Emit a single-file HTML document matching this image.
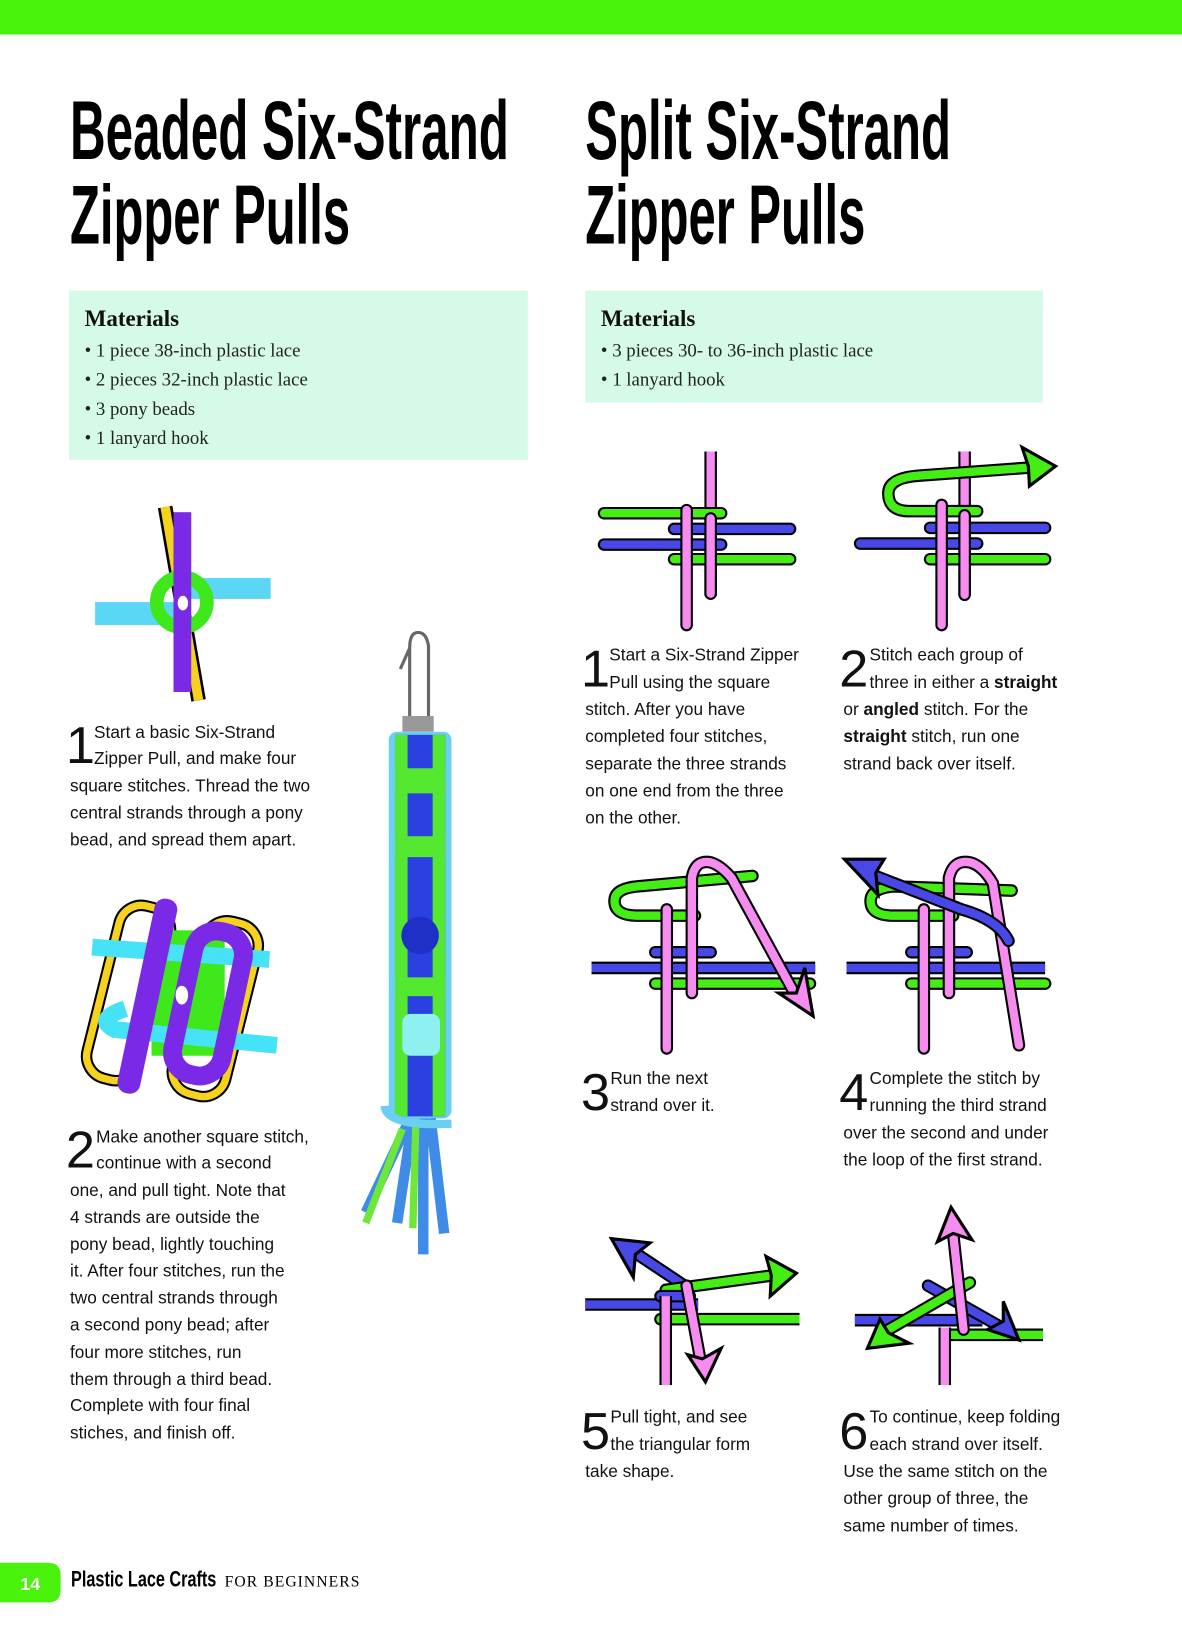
<!DOCTYPE html>
<html><head><meta charset="utf-8"><style>
html,body{margin:0;padding:0;background:#fff}
svg{display:block}
.o{stroke:#000;fill:none;stroke-width:12}
.or{stroke:#000;fill:none;stroke-width:12;stroke-linecap:round}
.g{stroke:#44ee14;fill:none;stroke-width:8}
.b{stroke:#4848e6;fill:none;stroke-width:8}
.p{stroke:#f68cef;fill:none;stroke-width:8}
.gr{stroke:#44ee14;fill:none;stroke-width:8;stroke-linecap:round}
.br{stroke:#4848e6;fill:none;stroke-width:8;stroke-linecap:round}
.pr{stroke:#f68cef;fill:none;stroke-width:8;stroke-linecap:round}
.t{font-family:"Liberation Sans",sans-serif;font-size:16.5px;fill:#111}
.n{font-family:"Liberation Sans Narrow","Liberation Sans",sans-serif;font-size:50px;fill:#111}
.h{font-family:"Liberation Sans Narrow","Liberation Sans",sans-serif;font-weight:bold;font-size:80px;fill:#000}
.m{font-family:"Liberation Serif",serif;font-size:18px;fill:#222}
.mh{font-family:"Liberation Serif",serif;font-size:22px;font-weight:bold;fill:#111}
</style></head><body>
<svg width="1182" height="1639" viewBox="0 0 1131 1568" preserveAspectRatio="none" xmlns="http://www.w3.org/2000/svg">
<rect x="0" y="0" width="1131" height="33" fill="#48f20a"/>
<text class="h" x="67" y="152" textLength="420" lengthAdjust="spacingAndGlyphs">Beaded Six-Strand</text>
<text class="h" x="67" y="233" textLength="268" lengthAdjust="spacingAndGlyphs">Zipper Pulls</text>
<text class="h" x="560" y="152" textLength="350" lengthAdjust="spacingAndGlyphs">Split Six-Strand</text>
<text class="h" x="560" y="233" textLength="268" lengthAdjust="spacingAndGlyphs">Zipper Pulls</text>

<rect x="66" y="278" width="439" height="162" fill="#d5fae8"/>
<rect x="560" y="278" width="438" height="107" fill="#d5fae8"/>
<text class="mh" x="81" y="312">Materials</text>
<text class="m" x="81" y="341">• 1 piece 38-inch plastic lace</text>
<text class="m" x="81" y="369">• 2 pieces 32-inch plastic lace</text>
<text class="m" x="81" y="397">• 3 pony beads</text>
<text class="m" x="81" y="425">• 1 lanyard hook</text>
<text class="mh" x="575" y="312">Materials</text>
<text class="m" x="575" y="341">• 3 pieces 30- to 36-inch plastic lace</text>
<text class="m" x="575" y="369">• 1 lanyard hook</text>

<!-- left fig 1 -->
<g>
<line x1="158" y1="485" x2="190" y2="670" stroke="#000" stroke-width="14"/>
<line x1="158" y1="485" x2="190" y2="670" stroke="#f7d21c" stroke-width="9"/>
<rect x="91" y="576" width="80" height="22" fill="#5bd6f5"/>
<rect x="178" y="553" width="81" height="20" fill="#5bd6f5"/>
<circle cx="174" cy="576" r="24" fill="none" stroke="#3ee81a" stroke-width="13"/>
<rect x="166" y="490" width="17" height="172" fill="#7a2ae6"/>
<ellipse cx="175" cy="577" rx="5" ry="7" fill="#fff"/>
</g>
<!-- left fig 2 -->
<g>
<rect x="98" y="865" width="50" height="170" rx="22" transform="rotate(14 123 950)" fill="none" stroke="#000" stroke-width="11"/>
<rect x="98" y="865" width="50" height="170" rx="22" transform="rotate(14 123 950)" fill="none" stroke="#f7d21c" stroke-width="7"/>
<rect x="180" y="880" width="52" height="170" rx="22" transform="rotate(14 206 965)" fill="none" stroke="#000" stroke-width="11"/>
<rect x="180" y="880" width="52" height="170" rx="22" transform="rotate(14 206 965)" fill="none" stroke="#f7d21c" stroke-width="7"/>
<rect x="145" y="890" width="70" height="120" fill="#3ee81a"/>
<rect x="88" y="904" width="170" height="16" fill="#45e2f8" transform="rotate(4 173 912)"/>
<path d="M120 965 Q90 975 110 985 L265 1000" stroke="#45e2f8" stroke-width="16" fill="none"/>
<rect x="130" y="858" width="22" height="190" rx="10" fill="#7a2ae6" transform="rotate(12 141 953)"/>
<rect x="175" y="890" width="48" height="140" rx="22" fill="none" stroke="#7a2ae6" stroke-width="18" transform="rotate(12 199 960)"/>
<ellipse cx="174" cy="952" rx="6" ry="9" fill="#fff"/>
</g>
<!-- keychain -->
<g>
<path d="M392 690 L392 620 Q392 605 400 605 Q408 605 410 618 L410 690" stroke="#666" stroke-width="3" fill="none"/>
<path d="M383 640 L392 620" stroke="#666" stroke-width="3"/>
<rect x="385" y="685" width="30" height="15" fill="#999"/>
<rect x="372" y="700" width="60" height="370" rx="8" fill="#6ccef2"/>
<rect x="378" y="703" width="48" height="365" fill="#2a40e0"/>
<g fill="#55e830">
<rect x="378" y="703" width="12" height="365"/>
<rect x="414" y="703" width="12" height="365"/>
<rect x="378" y="735" width="48" height="24"/>
<rect x="378" y="800" width="48" height="20"/>
<rect x="378" y="935" width="48" height="18"/>
</g>
<circle cx="402" cy="895" r="18" fill="#1f30c8"/>
<rect x="385" y="970" width="36" height="40" rx="8" fill="#8ff0f0"/>
<path d="M395 1070 L380 1170 M405 1070 L405 1200 M412 1070 L425 1180 M390 1075 L350 1160" stroke="#3e8ce8" stroke-width="10"/>
<path d="M398 1070 L395 1175 M385 1080 L350 1170" stroke="#6de83a" stroke-width="7"/>
<path d="M368 1058 Q370 1078 432 1075" stroke="#6ccef2" stroke-width="8" fill="none"/>
</g>

<!-- Right D1 -->
<g>
<path class="o" d="M680 432 V570"/><path class="p" d="M680 432 V570"/>
<path class="or" d="M578 491 H690"/><path class="gr" d="M578 491 H690"/>
<path class="or" d="M645 506 H756"/><path class="br" d="M645 506 H756"/>
<path class="or" d="M578 521 H690"/><path class="br" d="M578 521 H690"/>
<path class="or" d="M645 535 H756"/><path class="gr" d="M645 535 H756"/>
<path class="or" d="M657 488 V598"/><path class="pr" d="M657 488 V598"/>
<path class="or" d="M680 496 V568"/><path class="pr" d="M680 496 V568"/>
</g>
<!-- Right D2 -->
<g>
<path class="o" d="M923 432 V570"/><path class="p" d="M923 432 V570"/>
<path class="or" d="M935 489 H870 Q850 489 850 472 Q850 457 880 455 L990 447"/>
<path class="gr" d="M935 489 H870 Q850 489 850 472 Q850 457 880 455 L990 447"/>
<polygon points="1010,446 978,428 984,446 985,465" fill="#44ee14" stroke="#000" stroke-width="3"/>
<path class="or" d="M890 505 H1000"/><path class="br" d="M890 505 H1000"/>
<path class="or" d="M823 520 H935"/><path class="br" d="M823 520 H935"/>
<path class="or" d="M890 535 H1000"/><path class="gr" d="M890 535 H1000"/>
<path class="or" d="M901 483 V598"/><path class="pr" d="M901 483 V598"/>
<path class="or" d="M923 493 V569"/><path class="pr" d="M923 493 V569"/>
</g>
<!-- Right D3 -->
<g>
<path class="or" d="M665 876 H610 Q588 876 588 862 Q588 850 610 848 L720 838"/>
<path class="gr" d="M665 876 H610 Q588 876 588 862 Q588 850 610 848 L720 838"/>
<path class="o" d="M566 926 H780"/><path class="b" d="M566 926 H780"/>
<path class="or" d="M627 911 H680"/><path class="br" d="M627 911 H680"/>
<path class="or" d="M627 941 H775"/><path class="gr" d="M627 941 H775"/>
<path class="or" d="M638 870 V1003"/><path class="pr" d="M638 870 V1003"/>
<path class="or" d="M662 950 V840 Q665 822 680 825 Q690 828 700 840 L760 950"/>
<path class="pr" d="M662 950 V840 Q665 822 680 825 Q690 828 700 840 L760 950"/>
<polygon points="778,972 745,950 762,950 770,926" fill="#f68cef" stroke="#000" stroke-width="3"/>
</g>
<!-- Right D4 -->
<g>
<path class="or" d="M912 876 H855 Q833 876 833 862 Q833 850 855 848 L968 852"/>
<path class="gr" d="M912 876 H855 Q833 876 833 862 Q833 850 855 848 L968 852"/>
<path class="o" d="M810 926 H1000"/><path class="b" d="M810 926 H1000"/>
<path class="or" d="M872 911 H925"/><path class="br" d="M872 911 H925"/>
<path class="or" d="M872 941 H1000"/><path class="gr" d="M872 941 H1000"/>
<path class="or" d="M884 870 V1003"/><path class="pr" d="M884 870 V1003"/>
<path class="or" d="M908 950 V840 Q912 822 928 825 Q940 828 950 845 L975 1000"/>
<path class="pr" d="M908 950 V840 Q912 822 928 825 Q940 828 950 845 L975 1000"/>
<path class="or" d="M965 900 Q955 880 920 870 L830 835"/><path class="br" d="M965 900 Q955 880 920 870 L830 835"/>
<polygon points="808,822 846,822 838,835 840,856" fill="#4848e6" stroke="#000" stroke-width="3"/>
</g>
<!-- Right D5 -->
<g>
<path class="o" d="M560 1248 H668"/><path class="b" d="M560 1248 H668"/>
<path class="o" d="M640 1262 H765"/><path class="g" d="M640 1262 H765"/>
<path class="or" d="M655 1230 L610 1200"/><path class="br" d="M655 1230 L610 1200"/>
<polygon points="585,1185 622,1189 608,1200 606,1222" fill="#4848e6" stroke="#000" stroke-width="3"/>
<path class="or" d="M637 1234 L740 1220"/><path class="gr" d="M637 1234 L740 1220"/>
<polygon points="762,1218 733,1202 738,1220 737,1240" fill="#44ee14" stroke="#000" stroke-width="3"/>
<path class="or" d="M632 1240 H660"/><path class="br" d="M632 1240 H660"/>
<path class="or" d="M632 1262 H660"/><path class="gr" d="M632 1262 H660"/>
<path class="o" d="M637 1240 V1325"/><path class="p" d="M637 1240 V1325"/>
<path class="or" d="M657 1230 L670 1300"/><path class="pr" d="M657 1230 L670 1300"/>
<polygon points="675,1322 658,1296 672,1300 690,1290" fill="#f68cef" stroke="#000" stroke-width="3"/>
</g>
<!-- Right D6 -->
<g>
<path class="o" d="M818 1263 H940"/><path class="b" d="M818 1263 H940"/>
<path class="o" d="M900 1277 H998"/><path class="g" d="M900 1277 H998"/>
<path class="o" d="M904 1270 V1325"/><path class="p" d="M904 1270 V1325"/>
<path class="or" d="M888 1230 L955 1268"/><path class="br" d="M888 1230 L955 1268"/>
<polygon points="975,1282 945,1272 960,1264 960,1245" fill="#4848e6" stroke="#000" stroke-width="3"/>
<path class="or" d="M928 1227 L845 1275"/><path class="gr" d="M928 1227 L845 1275"/>
<polygon points="830,1290 842,1262 850,1275 870,1285" fill="#44ee14" stroke="#000" stroke-width="3"/>
<path class="or" d="M922 1272 L912 1180"/><path class="pr" d="M922 1272 L912 1180"/>
<polygon points="910,1155 897,1188 912,1180 930,1186" fill="#f68cef" stroke="#000" stroke-width="3"/>
</g>

<!-- Left texts -->
<text class="n" x="63" y="730">1</text>
<text class="t" x="90" y="706">Start a basic Six-Strand</text>
<text class="t" x="90" y="731">Zipper Pull, and make four</text>
<text class="t" x="67" y="757">square stitches. Thread the two</text>
<text class="t" x="67" y="783">central strands through a pony</text>
<text class="t" x="67" y="809">bead, and spread them apart.</text>

<text class="n" x="63" y="1117">2</text>
<text class="t" x="92" y="1093">Make another square stitch,</text>
<text class="t" x="92" y="1118">continue with a second</text>
<text class="t" x="67" y="1144">one, and pull tight. Note that</text>
<text class="t" x="67" y="1170">4 strands are outside the</text>
<text class="t" x="67" y="1196">pony bead, lightly touching</text>
<text class="t" x="67" y="1221">it. After four stitches, run the</text>
<text class="t" x="67" y="1247">two central strands through</text>
<text class="t" x="67" y="1273">a second pony bead; after</text>
<text class="t" x="67" y="1299">four more stitches, run</text>
<text class="t" x="67" y="1325">them through a third bead.</text>
<text class="t" x="67" y="1350">Complete with four final</text>
<text class="t" x="67" y="1376">stiches, and finish off.</text>

<!-- Right texts -->
<text class="n" x="556" y="657">1</text>
<text class="t" x="583" y="632">Start a Six-Strand Zipper</text>
<text class="t" x="583" y="658">Pull using the square</text>
<text class="t" x="560" y="684">stitch. After you have</text>
<text class="t" x="560" y="710">completed four stitches,</text>
<text class="t" x="560" y="736">separate the three strands</text>
<text class="t" x="560" y="762">on one end from the three</text>
<text class="t" x="560" y="788">on the other.</text>

<text class="n" x="803" y="657">2</text>
<text class="t" x="832" y="632">Stitch each group of</text>
<text class="t" x="832" y="658">three in either a <tspan font-weight="bold">straight</tspan></text>
<text class="t" x="807" y="684">or <tspan font-weight="bold">angled</tspan> stitch. For the</text>
<text class="t" x="807" y="710"><tspan font-weight="bold">straight</tspan> stitch, run one</text>
<text class="t" x="807" y="736">strand back over itself.</text>

<text class="n" x="556" y="1062">3</text>
<text class="t" x="584" y="1037">Run the next</text>
<text class="t" x="584" y="1063">strand over it.</text>

<text class="n" x="803" y="1062">4</text>
<text class="t" x="832" y="1037">Complete the stitch by</text>
<text class="t" x="832" y="1063">running the third strand</text>
<text class="t" x="807" y="1089">over the second and under</text>
<text class="t" x="807" y="1115">the loop of the first strand.</text>

<text class="n" x="556" y="1386">5</text>
<text class="t" x="584" y="1361">Pull tight, and see</text>
<text class="t" x="584" y="1387">the triangular form</text>
<text class="t" x="560" y="1413">take shape.</text>

<text class="n" x="803" y="1386">6</text>
<text class="t" x="832" y="1361">To continue, keep folding</text>
<text class="t" x="832" y="1387">each strand over itself.</text>
<text class="t" x="807" y="1413">Use the same stitch on the</text>
<text class="t" x="807" y="1439">other group of three, the</text>
<text class="t" x="807" y="1465">same number of times.</text>

<!-- footer -->
<path d="M0 1495 H46 Q58 1495 58 1507 V1521 Q58 1533 46 1533 H0 Z" fill="#48f20a"/>
<text x="29" y="1521" text-anchor="middle" font-family="Liberation Sans Narrow, Liberation Sans, sans-serif" font-weight="bold" font-size="17" fill="#fff">14</text>
<text x="68" y="1518" font-family="Liberation Sans Narrow, Liberation Sans, sans-serif" font-weight="bold" font-size="21" fill="#000" textLength="139" lengthAdjust="spacingAndGlyphs">Plastic Lace Crafts</text>
<text x="215" y="1518" font-family="Liberation Serif, serif" font-size="15" fill="#000" letter-spacing="1">FOR BEGINNERS</text>
</svg>
</body></html>
